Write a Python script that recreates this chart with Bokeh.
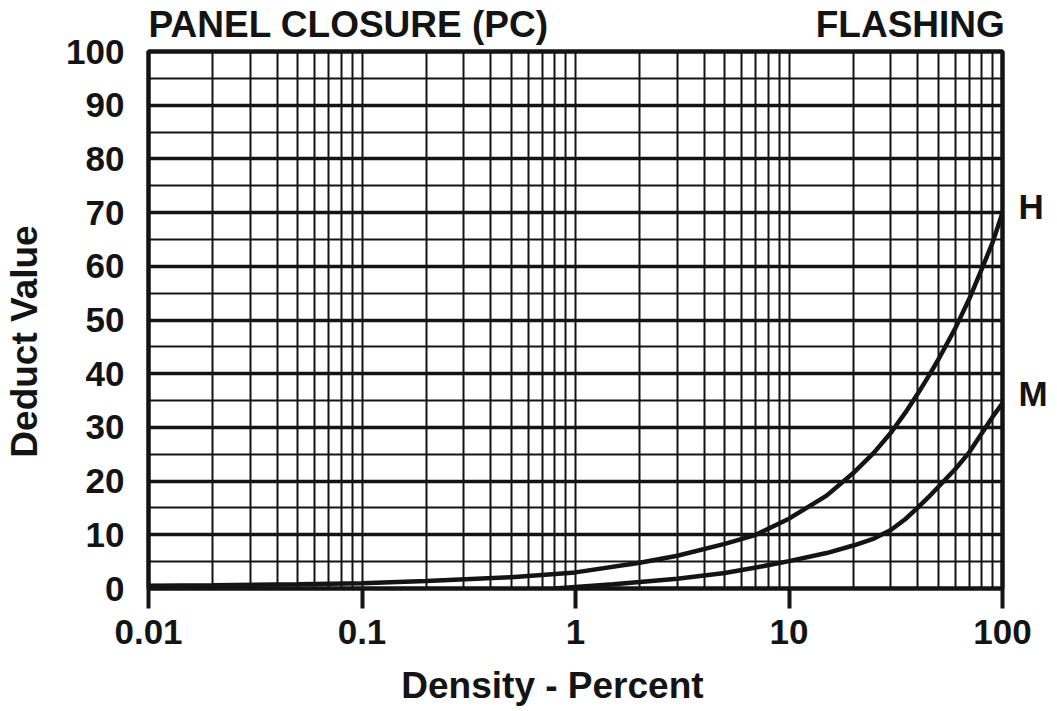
from bokeh.plotting import figure
from bokeh.models import FixedTicker, LinearAxis, LogAxis
from bokeh.embed import file_html
from bokeh.resources import INLINE

# ---- data ----
density_h = [0.01, 0.02, 0.05, 0.1, 0.2, 0.5, 1, 2, 3, 5, 7, 10, 15, 20, 25, 30, 35, 40, 45, 50, 60, 70, 80, 90, 100]
deduct_h = [0.5, 0.6, 0.8, 1.0, 1.4, 2.1, 3.0, 4.8, 6.1, 8.3, 10.0, 13.0, 17.3, 21.5, 25.3, 29.0, 32.7, 36.2, 39.5, 42.6, 48.4, 54.0, 59.5, 64.5, 70.0]

density_m = [0.8, 1, 1.5, 2, 3, 5, 7, 10, 15, 20, 25, 30, 35, 40, 45, 50, 60, 70, 80, 90, 100]
deduct_m = [0.0, 0.3, 0.8, 1.2, 1.8, 2.9, 3.9, 5.1, 6.6, 8.0, 9.3, 10.9, 12.9, 15.0, 17.0, 18.9, 22.2, 25.4, 28.9, 32.0, 34.5]

x_ticks = [0.01, 0.1, 1, 10, 100]
x_tick_labels = ["0.01", "0.1", "1", "10", "100"]
x_minor = [d * k for d in [0.01, 0.1, 1, 10] for k in range(2, 10)]
y_ticks = list(range(0, 101, 10))
y_minor = list(range(5, 100, 10))

title_left = "PANEL CLOSURE (PC)"
title_right = "FLASHING"
curve_labels = ["H", "M"]
x_title = "Density - Percent"
y_title = "Deduct Value"

# ---- layout / style constants (text placement, not data) ----
TITLE_POS = [0.0866, 37.0]      # centres of the two header texts (x, log scale)
CURVE_LABEL_POS = [71.2, 36.4]  # heights of the curve-name texts at the right
X_TITLE_POS = 0.78              # centre of the x-axis title (log scale)
Y_TITLE_POS = 46.0              # centre of the y-axis title
FONT = "Liberation Sans"
INK = "#141414"

p = figure(width=1057, height=711, x_axis_type="log",
           x_range=(0.01, 100), y_range=(0, 100),
           output_backend="svg", toolbar_location=None,
           min_border_left=148, min_border_right=55,
           min_border_top=50, min_border_bottom=123)
p.background_fill_color = "white"
p.border_fill_color = "white"
p.outline_line_color = INK
p.outline_line_width = 4.5


def style_axis(ax, size="35px"):
    ax.axis_line_color = None
    ax.minor_tick_line_color = None
    ax.major_label_text_font = FONT
    ax.major_label_text_font_style = "bold"
    ax.major_label_text_font_size = size
    ax.major_label_text_color = INK


def text_axis(ax, standoff, size):
    style_axis(ax, size)
    ax.major_tick_line_color = None
    ax.major_tick_out = 0
    ax.major_tick_in = 0
    ax.major_label_standoff = standoff


# x axis (bottom)
p.xaxis.ticker = FixedTicker(ticks=x_ticks, minor_ticks=x_minor)
p.xaxis.major_label_overrides = {float(t): l for t, l in zip(x_ticks, x_tick_labels)}
style_axis(p.xaxis)
p.xaxis.major_tick_out = 20
p.xaxis.major_tick_in = 0
p.xaxis.major_tick_line_width = 4
p.xaxis.major_tick_line_color = INK
p.xaxis.major_label_standoff = 11

# y axis (left)
p.yaxis.ticker = FixedTicker(ticks=y_ticks, minor_ticks=y_minor)
style_axis(p.yaxis)
p.yaxis.major_tick_out = 0
p.yaxis.major_tick_in = 0
p.yaxis.major_label_standoff = 20

# x-axis title (second axis below)
x_title_axis = LogAxis(ticker=FixedTicker(ticks=[X_TITLE_POS], minor_ticks=[]),
                       major_label_overrides={X_TITLE_POS: x_title})
text_axis(x_title_axis, 18, "37px")
p.add_layout(x_title_axis, "below")

# y-axis title (second axis at the left)
y_title_axis = LinearAxis(ticker=FixedTicker(ticks=[Y_TITLE_POS], minor_ticks=[]),
                          major_label_overrides={Y_TITLE_POS: y_title},
                          major_label_orientation="vertical")
text_axis(y_title_axis, 18, "37px")
p.add_layout(y_title_axis, "left")

# header texts via an axis above the frame
top_axis = LogAxis(ticker=FixedTicker(ticks=TITLE_POS, minor_ticks=[]),
                   major_label_overrides={TITLE_POS[0]: title_left, TITLE_POS[1]: title_right})
text_axis(top_axis, 7, "37px")
p.add_layout(top_axis, "above")

# curve names via an axis at the right of the frame
right_axis = LinearAxis(ticker=FixedTicker(ticks=CURVE_LABEL_POS, minor_ticks=[]),
                        major_label_overrides={CURVE_LABEL_POS[0]: curve_labels[0],
                                               CURVE_LABEL_POS[1]: curve_labels[1]})
text_axis(right_axis, 16, "35px")
p.add_layout(right_axis, "right")

# grids
p.xgrid.grid_line_color = INK
p.xgrid.grid_line_width = 2
p.xgrid.minor_grid_line_color = INK
p.xgrid.minor_grid_line_width = 2
p.ygrid.grid_line_color = INK
p.ygrid.grid_line_width = 3.5
p.ygrid.minor_grid_line_color = INK
p.ygrid.minor_grid_line_width = 2

# curves
p.line(density_h, deduct_h, line_color=INK, line_width=4.5)
p.line(density_m, deduct_m, line_color=INK, line_width=4.5)

open("out.html", "w").write(file_html(p, INLINE))
